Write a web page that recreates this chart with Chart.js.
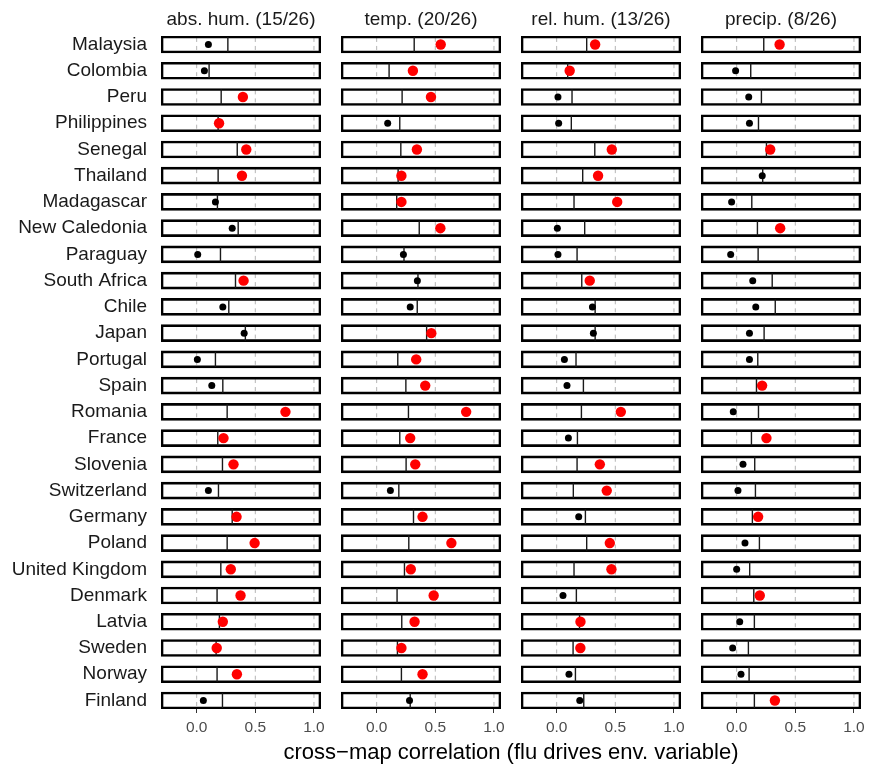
<!DOCTYPE html>
<html>
<head>
<meta charset="utf-8">
<script src="https://cdn.jsdelivr.net/npm/chart.js@4.4.1/dist/chart.umd.min.js"></script>
<style>
  html, body { margin: 0; padding: 0; background: #fff; }
  #wrap { position: relative; width: 869px; height: 767px; overflow: hidden; font-family: "Liberation Sans", Arial, sans-serif; }
  .panel { position: absolute; top: 0; }
  #xtitle { position: absolute; left: 161px; width: 700px; top: 739px; line-height: 26px; text-align: center; font-size: 22px; color: #000; }
</style>
</head>
<body>
<div id="wrap">
  <canvas class="panel" id="c0"></canvas>
  <canvas class="panel" id="c1"></canvas>
  <canvas class="panel" id="c2"></canvas>
  <canvas class="panel" id="c3"></canvas>
  <div id="xtitle">cross−map correlation (flu drives env. variable)</div>
</div>
<script>
const countries = ["Malaysia", "Colombia", "Peru", "Philippines", "Senegal", "Thailand", "Madagascar",
  "New Caledonia", "Paraguay", "South Africa", "Chile", "Japan", "Portugal", "Spain", "Romania",
  "France", "Slovenia", "Switzerland", "Germany", "Poland", "United Kingdom", "Denmark", "Latvia",
  "Sweden", "Norway", "Finland"];

const variables = ["abs. hum.", "temp.", "rel. hum.", "precip."];

// cross-map rho (dot) and 95% null threshold (vertical line)
const absHumRho = [0.100, 0.066, 0.394, 0.191, 0.423, 0.386, 0.160, 0.303, 0.009, 0.400, 0.223, 0.405, 0.006,
  0.129, 0.757, 0.229, 0.314, 0.100, 0.340, 0.494, 0.291, 0.374, 0.223, 0.171, 0.343, 0.057];
const absHumThr = [0.266, 0.106, 0.209, 0.183, 0.346, 0.183, 0.177, 0.354, 0.203, 0.331, 0.274, 0.415, 0.160,
  0.223, 0.260, 0.180, 0.220, 0.186, 0.303, 0.260, 0.206, 0.174, 0.194, 0.166, 0.174, 0.220];

const tempRho = [0.546, 0.309, 0.463, 0.094, 0.343, 0.211, 0.211, 0.543, 0.228, 0.347, 0.286, 0.466, 0.337,
  0.414, 0.763, 0.286, 0.329, 0.117, 0.391, 0.637, 0.291, 0.486, 0.323, 0.211, 0.391, 0.280];
const tempThr = [0.320, 0.106, 0.217, 0.197, 0.206, 0.183, 0.171, 0.363, 0.233, 0.352, 0.346, 0.426, 0.180,
  0.249, 0.271, 0.197, 0.251, 0.189, 0.314, 0.274, 0.237, 0.174, 0.214, 0.177, 0.211, 0.286];

const relHumRho = [0.328, 0.111, 0.011, 0.017, 0.470, 0.353, 0.516, 0.006, 0.011, 0.282, 0.305, 0.313, 0.066,
  0.088, 0.547, 0.100, 0.368, 0.427, 0.188, 0.453, 0.467, 0.054, 0.203, 0.202, 0.105, 0.197];
const relHumThr = [0.256, 0.094, 0.131, 0.125, 0.325, 0.222, 0.148, 0.239, 0.174, 0.214, 0.328, 0.328, 0.165,
  0.228, 0.211, 0.177, 0.174, 0.142, 0.245, 0.256, 0.148, 0.168, 0.195, 0.140, 0.160, 0.231];

const precipRho = [0.366, -0.009, 0.103, 0.109, 0.286, 0.218, -0.043, 0.371, -0.051, 0.137, 0.163, 0.109, 0.109,
  0.217, -0.029, 0.254, 0.054, 0.011, 0.183, 0.071, 0.000, 0.197, 0.026, -0.034, 0.037, 0.326];
const precipThr = [0.231, 0.120, 0.211, 0.186, 0.254, 0.222, 0.129, 0.177, 0.183, 0.303, 0.329, 0.234, 0.180,
  0.169, 0.186, 0.126, 0.154, 0.160, 0.134, 0.194, 0.111, 0.146, 0.151, 0.100, 0.106, 0.151];

const xTicks = [0, 0.5, 1];

const rhoSets = [absHumRho, tempRho, relHumRho, precipRho];
const thrSets = [absHumThr, tempThr, relHumThr, precipThr];

// panel geometry
const X_MIN = -0.304, X_MAX = 1.06;
const Y_MIN = -0.324, Y_MAX = 25.324;
const PANEL_LEFT = 161, PANEL_W = 160, PANEL_STEP = 180, LABEL_W = 161;
const CANVAS_H = 767;

function makePanel(k) {
  const rho = rhoSets[k];
  const thr = thrSets[k];
  const first = k === 0;
  const nSig = rho.filter((r, i) => r > thr[i]).length;

  const canvas = document.getElementById('c' + k);
  const leftSpace = first ? LABEL_W : 10;
  const w = leftSpace + PANEL_W + 10;
  canvas.width = w;
  canvas.height = CANVAS_H;
  canvas.style.width = w + 'px';
  canvas.style.height = CANVAS_H + 'px';
  canvas.style.left = (PANEL_LEFT + PANEL_STEP * k - leftSpace) + 'px';

  const boxes = countries.map((c, i) => ({ x: [X_MIN, X_MAX], y: i }));
  const grid = [];
  xTicks.forEach(function (g) {
    countries.forEach(function (c, i) {
      grid.push({ x: g, y: i - 0.25 }, { x: g, y: i + 0.25 }, { x: g, y: null });
    });
  });
  const lines = countries.map((c, i) => ({ x: thr[i], y: i }));
  const sig = [], nonSig = [];
  countries.forEach(function (c, i) {
    (rho[i] > thr[i] ? sig : nonSig).push({ x: rho[i], y: i });
  });

  new Chart(canvas, {
    type: 'scatter',
    data: {
      datasets: [
        {
          type: 'scatter', data: grid, showLine: true, spanGaps: false,
          borderColor: '#b5b5b5', borderWidth: 1, borderDash: [4, 4],
          pointRadius: 0, order: 5,
        },
        {
          type: 'bar', data: boxes, indexAxis: 'y',
          backgroundColor: 'rgba(255,255,255,0)', borderColor: '#000',
          borderWidth: 2, borderSkipped: false, barThickness: 17, order: 4,
        },
        {
          type: 'scatter', data: lines, pointStyle: 'line', rotation: 90,
          pointRadius: 7.5, borderColor: '#1a1a1a', borderWidth: 1.4, order: 3,
        },
        {
          type: 'scatter', data: nonSig, pointRadius: 3.5,
          backgroundColor: '#000', borderColor: '#000', borderWidth: 0, order: 2,
        },
        {
          type: 'scatter', data: sig, pointRadius: 5.2,
          backgroundColor: '#ff0000', borderColor: '#ff0000', borderWidth: 0, order: 1,
        },
      ],
    },
    options: {
      responsive: false,
      animation: false,
      events: [],
      layout: { padding: { left: first ? 0 : 10, right: 10, top: 0, bottom: 28 } },
      plugins: {
        legend: { display: false },
        tooltip: { enabled: false },
        title: {
          display: true,
          fullSize: false,
          text: variables[k] + ' (' + nSig + '/' + countries.length + ')',
          color: '#1a1a1a',
          font: { family: '"Liberation Sans", Arial, sans-serif', size: 19, weight: 'normal', lineHeight: 1.2 },
          padding: { top: 8, bottom: 5.2 },
        },
      },
      scales: {
        x: {
          type: 'linear', min: X_MIN, max: X_MAX, offset: false,
          afterBuildTicks: function (axis) { axis.ticks = xTicks.map(v => ({ value: v })); },
          afterFit: function (axis) {
            axis.height = 30;
            axis.paddingLeft = 0; axis.paddingRight = 0;
          },
          grid: { drawOnChartArea: false, drawTicks: true, tickLength: 4, tickColor: '#333', lineWidth: 1 },
          border: { display: false },
          ticks: {
            padding: 5, color: '#4d4d4d', maxRotation: 0,
            font: { family: '"Liberation Sans", Arial, sans-serif', size: 15.5 },
            callback: v => v.toFixed(1),
          },
        },
        y: {
          type: 'linear', min: Y_MIN, max: Y_MAX, reverse: true, offset: false,
          display: first,
          afterBuildTicks: function (axis) { axis.ticks = countries.map((c, i) => ({ value: i })); },
          afterFit: function (axis) {
            axis.width = first ? LABEL_W : 0;
            axis.paddingTop = 0; axis.paddingBottom = 0;
          },
          grid: { display: false, drawTicks: false, offset: false },
          border: { display: false },
          ticks: {
            autoSkip: false, padding: 14, color: '#1a1a1a',
            font: { family: '"Liberation Sans", Arial, sans-serif', size: 19 },
            callback: v => countries[v],
          },
        },
      },
    },
  });
}

document.addEventListener('DOMContentLoaded', function () {
  for (let k = 0; k < variables.length; k++) makePanel(k);
});
</script>
</body>
</html>
